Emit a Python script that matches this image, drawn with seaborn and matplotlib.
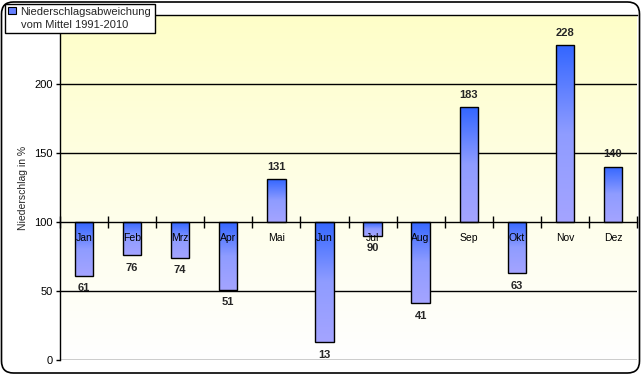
import numpy as np
import matplotlib
matplotlib.use("Agg")
import matplotlib.pyplot as plt
import seaborn as sns
from matplotlib.patches import FancyBboxPatch, Patch
from matplotlib.colors import LinearSegmentedColormap
from matplotlib.ticker import FixedLocator
from matplotlib.transforms import IdentityTransform

# data (precipitation in % of 1991-2010 mean)
months = ["Jan", "Feb", "Mrz", "Apr", "Mai", "Jun", "Jul", "Aug", "Sep", "Okt", "Nov", "Dez"]
values = [61, 76, 74, 51, 131, 13, 90, 41, 183, 63, 228, 140]
yticks = [0, 50, 100, 150, 200]
baseline = 100

sns.set_theme(style="white")
plt.rcParams["font.family"] = ["Liberation Sans", "DejaVu Sans"]

fig = plt.figure(figsize=(6.43, 3.75), dpi=100)
ax = fig.add_axes([60 / 643, 15 / 375, 577 / 643, 345 / 375])

heights = np.array(values) - baseline
sns.barplot(x=months, y=heights, bottom=baseline, width=0.38, facecolor="none",
            edgecolor="black", linewidth=1, errorbar=None, ax=ax, zorder=1.2)
ax.set_axisbelow(False)

# yellow-to-white background
bg = LinearSegmentedColormap.from_list("bg", ["#ffffff", "#fefee6", "#ffffc8"])
ax.imshow(np.linspace(0, 1, 256).reshape(-1, 1), cmap=bg, origin="lower", aspect="auto",
          extent=[-0.5, len(months) - 0.5, 0, 250], zorder=0)

# blue gradient inside bars
barcm = LinearSegmentedColormap.from_list("bar", ["#a4a4ff", "#8f9cff", "#3366ff"])
for p in ax.patches:
    x0, y0 = p.get_x(), p.get_y()
    w, h = p.get_width(), p.get_height()
    lo, hi = min(y0, y0 + h), max(y0, y0 + h)
    im = ax.imshow(np.linspace(0, 1, 256).reshape(-1, 1), cmap=barcm, origin="lower",
                   aspect="auto", extent=[x0, x0 + w, lo, hi], zorder=1.1)
    im.set_clip_path(p)

ax.set_xlim(-0.5, len(months) - 0.5)
ax.set_ylim(0, 250)

# horizontal gridlines behind bars
for g in [0, 50, 150, 200]:
    ax.axhline(g, color="black", linewidth=1, zorder=0.6)

# x axis crossing at 100
ax.spines["bottom"].set_position(("data", baseline))
ax.spines["right"].set_visible(False)
for s in ["left", "bottom", "top"]:
    ax.spines[s].set_color("black")
    ax.spines[s].set_linewidth(1)
ax.xaxis.set_minor_locator(FixedLocator(np.arange(-0.5, len(months), 1.0)))
ax.tick_params(axis="x", which="major", length=0, pad=8, labelsize=7.5, colors="black")
ax.tick_params(axis="x", which="minor", bottom=True, direction="inout", length=8, width=1, color="black")
ax.set_yticks(yticks)
ax.tick_params(axis="y", left=True, length=3, width=1, labelsize=8, pad=2, colors="black")
ax.set_xlabel("")
ax.set_ylabel("Niederschlag in %", fontsize=7.5, labelpad=5)

# value labels
for i, v in enumerate(values):
    off = 12.5 if v >= baseline else -12.5
    ax.annotate(str(v), (i, v), xytext=(0, off), textcoords="offset pixels",
                ha="center", va="center", fontsize=8, fontweight="bold", zorder=3)

# rounded frame round the whole chart
frame = FancyBboxPatch((1.5, 2), 638, 371, boxstyle="round,pad=0,rounding_size=12",
                       transform=IdentityTransform(), facecolor="none", edgecolor="black",
                       linewidth=1.2)
fig.patches.append(frame)

handle = Patch(facecolor="#6680ff", edgecolor="black", linewidth=0.8)
leg = fig.legend([handle], ["Niederschlagsabweichung\nvom Mittel 1991-2010"], loc="upper left",
                 bbox_to_anchor=(5 / 643, 1 - 4 / 375), fontsize=8, frameon=True, fancybox=False,
                 handlelength=0.7, handleheight=0.7, handletextpad=0.4, borderpad=0.3,
                 borderaxespad=0)
leg.get_texts()[0].set_linespacing(1.35)
leg.get_frame().set_edgecolor("black")
leg.get_frame().set_linewidth(1)
leg.get_frame().set_facecolor("white")
leg.get_frame().set_alpha(1)
leg.set_zorder(5)
for h in leg.legend_handles:
    h.set_y(h.get_y() + 6)

fig.savefig("out.png", dpi=100)
